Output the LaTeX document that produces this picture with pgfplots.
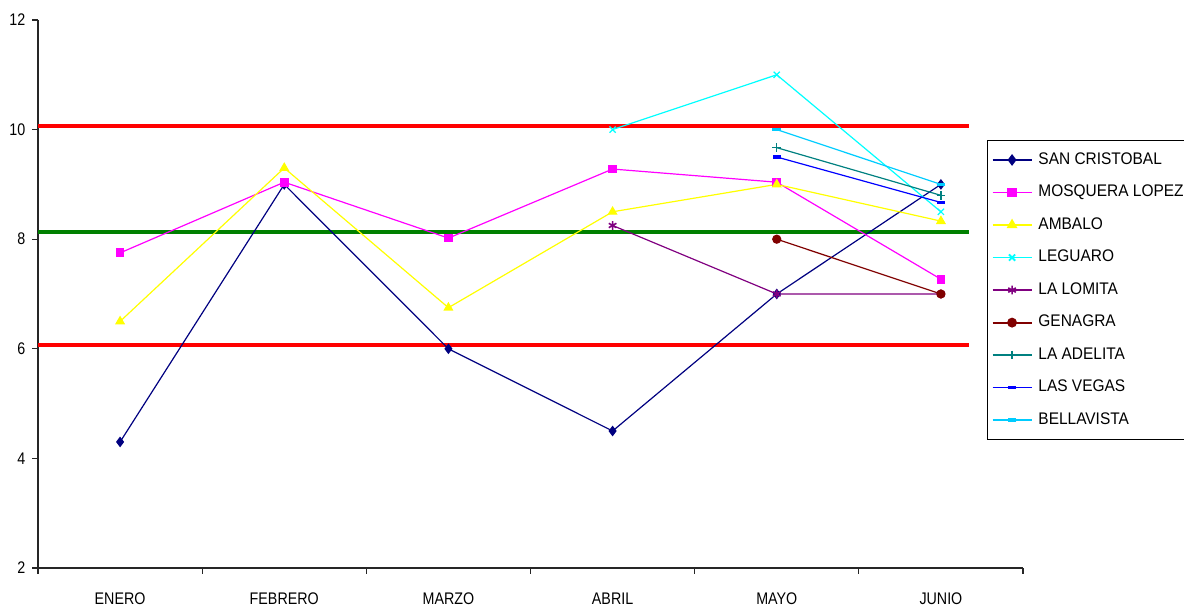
\documentclass[border=0pt]{standalone}
\usepackage{pgfplots}
\pgfplotsset{compat=1.18}
\usepackage{fontspec}
\setmainfont[FakeStretch=0.85]{Liberation Sans}
\newfontfamily\legfont[FakeStretch=0.92]{Liberation Sans}
\definecolor{sancris}{HTML}{000080}
\definecolor{mosq}{HTML}{FF00FF}
\definecolor{ambalo}{HTML}{FFFF00}
\definecolor{leguaro}{HTML}{00FFFF}
\definecolor{lomita}{HTML}{800080}
\definecolor{genagra}{HTML}{800000}
\definecolor{adelita}{HTML}{008080}
\definecolor{vegas}{HTML}{0000FF}
\definecolor{bella}{HTML}{00CCFF}
\definecolor{refred}{HTML}{FF0000}
\definecolor{refgreen}{HTML}{008000}
\begin{document}
\begin{tikzpicture}
\path[use as bounding box] (-19pt,-20pt) rectangle (573pt,284pt);
\begin{axis}[
  at={(0pt,0pt)}, anchor=south west,
  scale only axis,
  width=492.5pt, height=274pt,
  xmin=-0.5, xmax=5.5, ymin=2, ymax=12,
  axis x line*=bottom, axis y line*=left,
  axis line style={-, line width=0.8pt, black!85},
  xtick={0,1,2,3,4,5},
  xticklabels={ENERO,FEBRERO,MARZO,ABRIL,MAYO,JUNIO},
  major x tick style={draw=none},
  minor xtick={-0.5,0.5,1.5,2.5,3.5,4.5,5.5},
  minor tick length=2.8pt,
  tick align=outside,
  ytick={2,4,6,8,10,12},
  major tick length=2.8pt,
  tick style={line width=0.6pt, black!85},
  xticklabel style={yshift=-6pt},
  ticklabel style={font=\fontsize{8.4}{10}\selectfont, text=black},
  /pgf/number format/assume math mode=true,
  legend cell align=left,
  legend style={at={(rel axis cs:0.9635,0.781)}, anchor=north west,
    draw=black, line width=0.6pt, font=\legfont\fontsize{8.4}{10}\selectfont,
    row sep=4.9pt, inner xsep=2pt, inner ysep=4pt,
    nodes={inner xsep=3pt}},
  legend image code/.code={\draw[mark repeat=2,mark phase=2,line width=0.9pt,#1] plot coordinates {(0pt,0pt) (9.75pt,0pt) (19.5pt,0pt)};},
  every axis plot/.append style={line width=0.6pt},
]
% reference lines
\addplot[refred, line width=1.8pt, forget plot] coordinates {(-0.5,10.07) (5.17,10.07)};
\addplot[refgreen, line width=1.8pt, forget plot] coordinates {(-0.5,8.13) (5.17,8.13)};
\addplot[refred, line width=1.8pt, forget plot] coordinates {(-0.5,6.07) (5.17,6.07)};
% series
\addplot[sancris, mark=diamond*, mark size=2.2pt, mark options={fill=sancris}] coordinates {(0,4.3) (1,9.0) (2,6.0) (3,4.5) (4,7.0) (5,9.0)};
\addlegendentry{SAN CRISTOBAL}
\addplot[mosq, mark=square*, mark size=1.9pt, mark options={fill=mosq}] coordinates {(0,7.75) (1,9.04) (2,8.02) (3,9.28) (4,9.04) (5,7.27)};
\addlegendentry{MOSQUERA LOPEZ}
\addplot[ambalo, mark=triangle*, mark size=2.3pt, mark options={fill=ambalo}] coordinates {(0,6.5) (1,9.3) (2,6.75) (3,8.5) (4,9.0) (5,8.33)};
\addlegendentry{AMBALO}
\addplot[leguaro, mark=x, mark size=2.2pt] coordinates {(3,10.0) (4,11.0) (5,8.5)};
\addlegendentry{LEGUARO}
\addplot[lomita, mark=asterisk, mark size=2.2pt, mark options={line width=0.8pt}] coordinates {(3,8.25) (4,7.0) (5,7.0)};
\addlegendentry{LA LOMITA}
\addplot[genagra, mark=*, mark size=2pt, mark options={fill=genagra}] coordinates {(4,8.0) (5,7.0)};
\addlegendentry{GENAGRA}
\addplot[adelita, mark=+, mark size=2.2pt, mark options={line width=0.7pt}] coordinates {(4,9.67) (5,8.8)};
\addlegendentry{LA ADELITA}
\addplot[vegas, mark=-, mark size=2pt, mark options={line width=1.6pt}] coordinates {(4,9.5) (5,8.67)};
\addlegendentry{LAS VEGAS}
\addplot[bella, mark=-, mark size=2.2pt, mark options={line width=1.8pt}] coordinates {(4,10.0) (5,9.0)};
\addlegendentry{BELLAVISTA}
\end{axis}
\end{tikzpicture}
\end{document}
